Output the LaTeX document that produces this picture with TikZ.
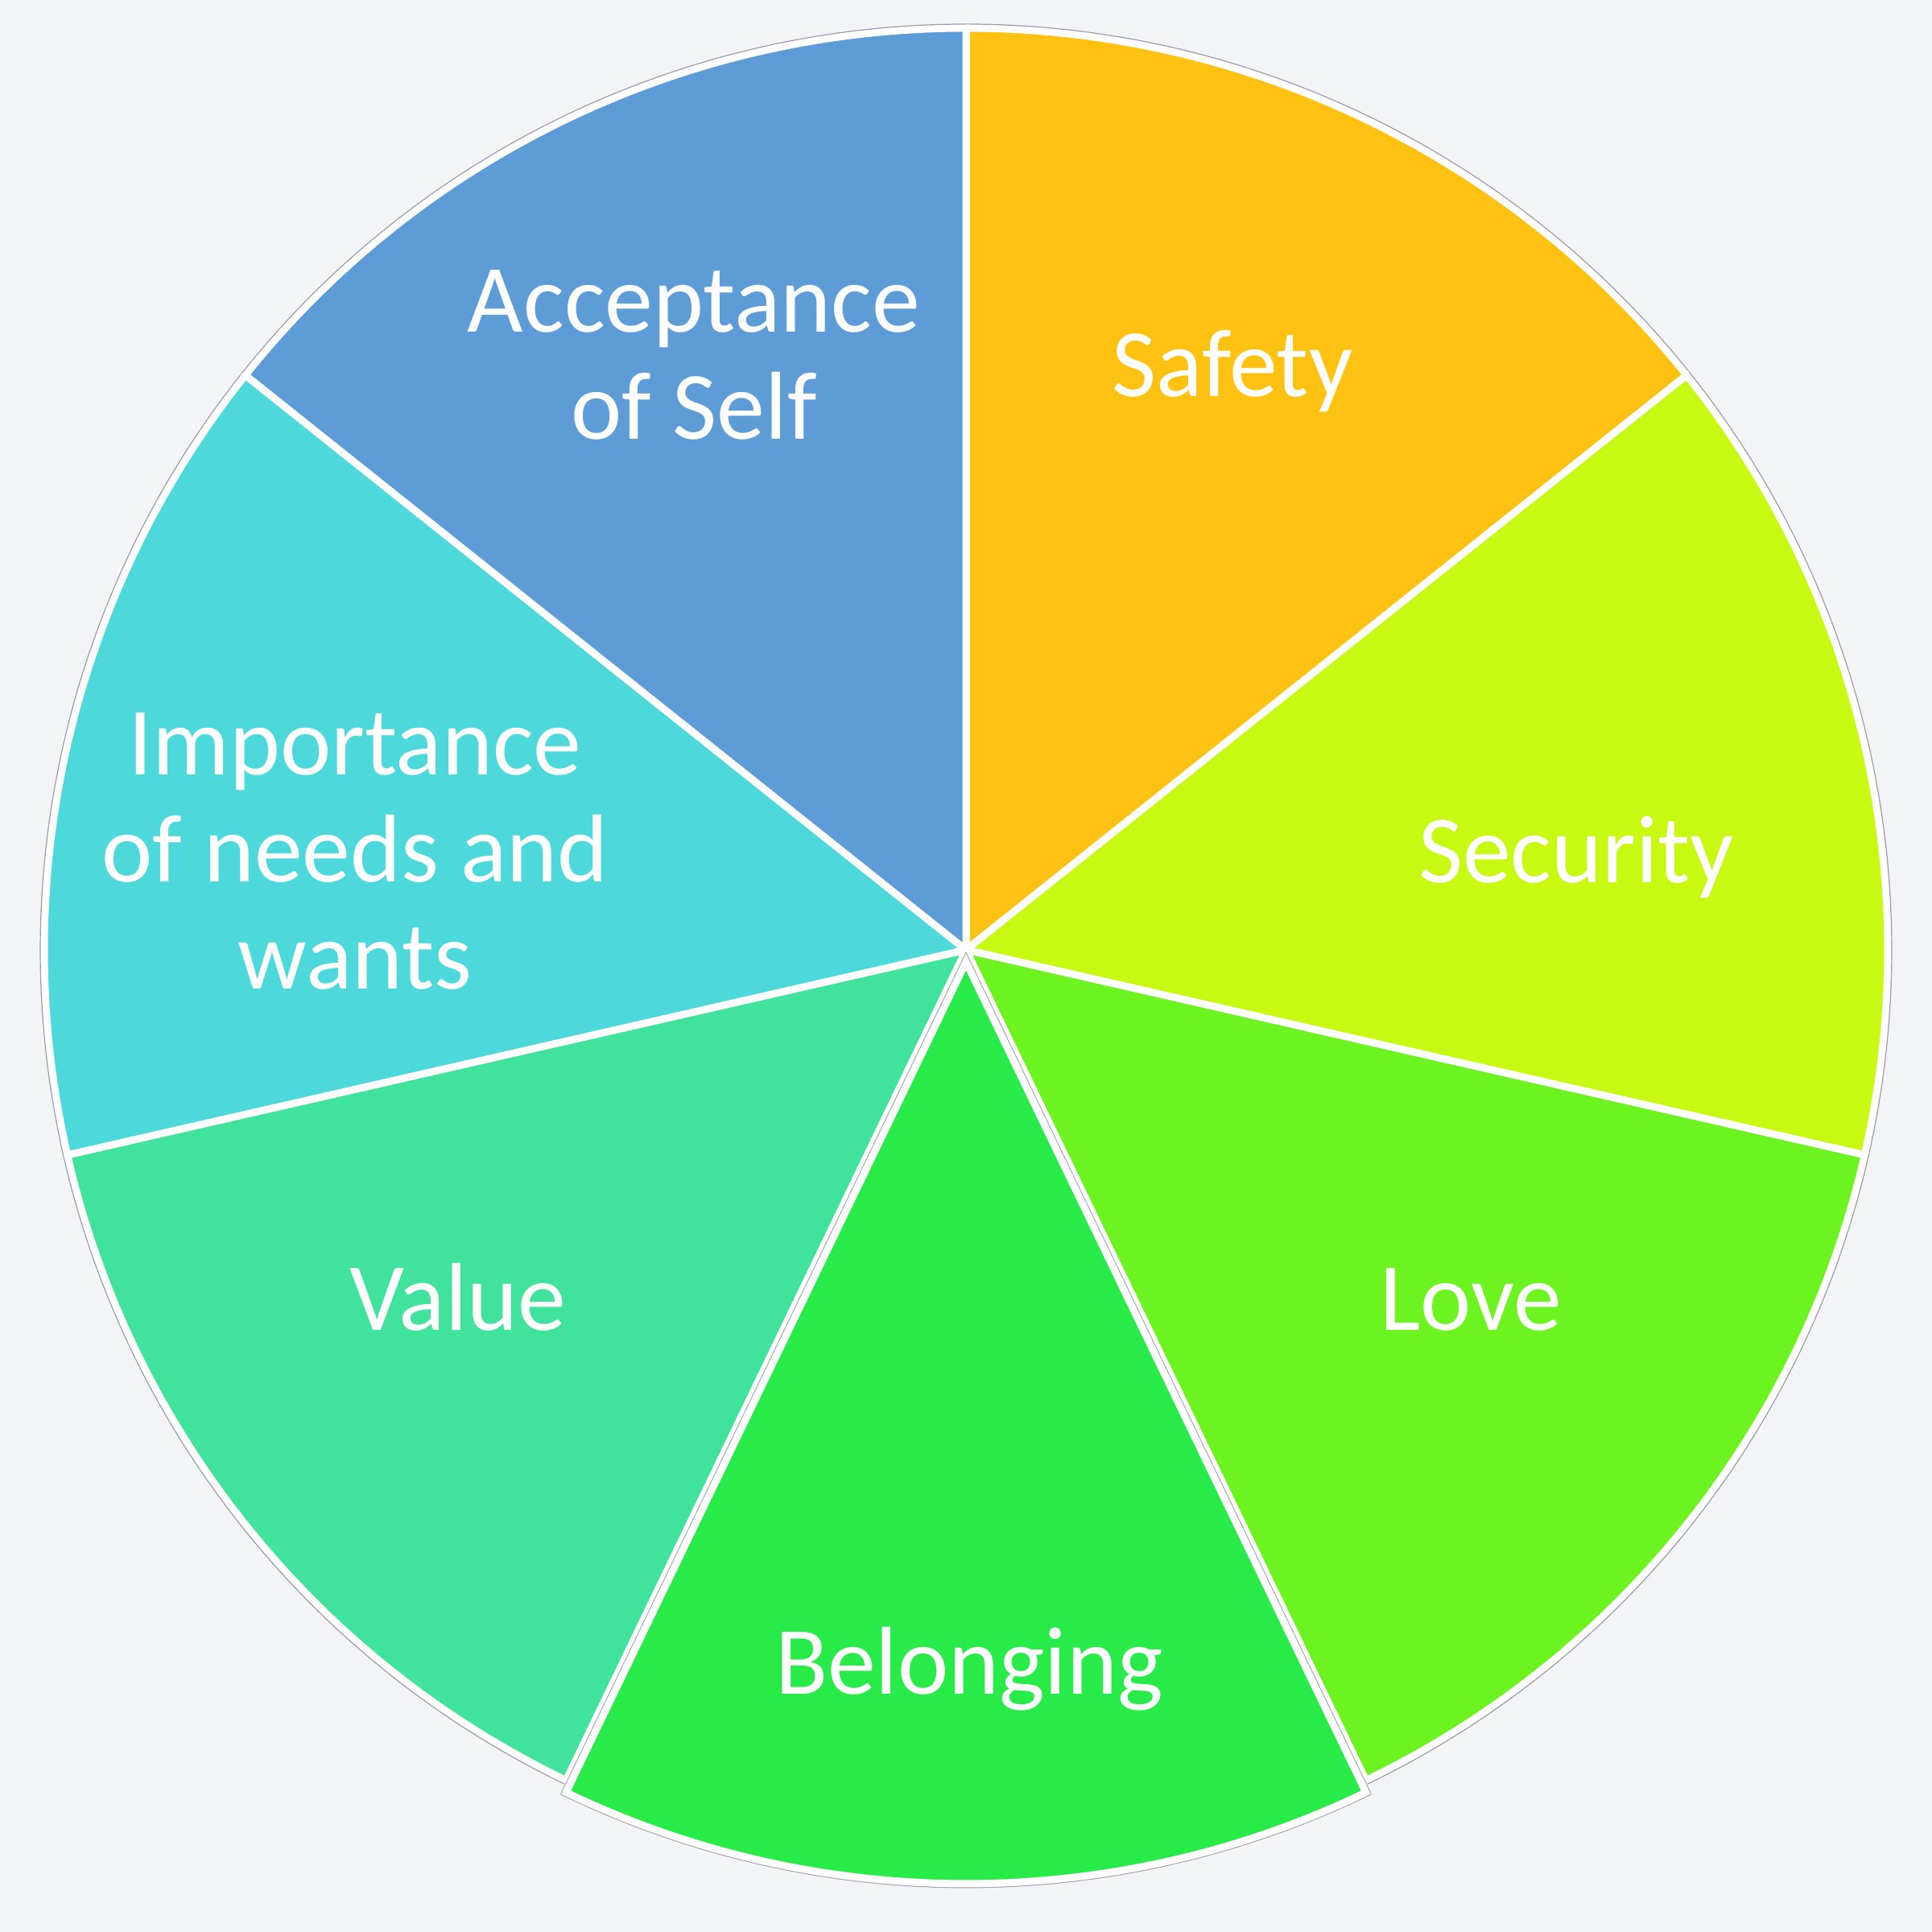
\documentclass[tikz,border=0pt]{standalone}
\usepackage{fontspec}
\setmainfont{Carlito}
\definecolor{bg}{HTML}{F3F4F6}
\definecolor{cAccept}{HTML}{5D9CD6}
\definecolor{cSafety}{HTML}{FFC212}
\definecolor{cSecurity}{HTML}{C8F912}
\definecolor{cLove}{HTML}{6CF320}
\definecolor{cBelong}{HTML}{28EB4A}
\definecolor{cValue}{HTML}{41E29C}
\definecolor{cImport}{HTML}{4DD9DC}
\definecolor{rimgray}{HTML}{9C9CAE}
\begin{document}
\begin{tikzpicture}
\tikzset{
  slice/.style={draw=white, line width=0.09cm, line join=miter},
  rim/.style={draw=rimgray, line width=0.012cm},
  lbl/.style={text=white, font=\fontsize{34.1}{37.9}\selectfont, align=center, anchor=base, inner sep=0pt}
}
\def\R{11.45}
\def\Rr{11.5}
\useasboundingbox[fill=bg] (-12,-12.2) rectangle (12,11.8);
% slices (clockwise from top)
\draw[slice, fill=cSafety] (0,0) -- (90:\R) arc[start angle=90, end angle=38.5714, radius=\R] -- cycle;
\draw[rim] (90:\Rr) arc[start angle=90, end angle=38.5714, radius=\Rr];
\draw[slice, fill=cSecurity] (0,0) -- (38.5714:\R) arc[start angle=38.5714, end angle=-12.8571, radius=\R] -- cycle;
\draw[rim] (38.5714:\Rr) arc[start angle=38.5714, end angle=-12.8571, radius=\Rr];
\draw[slice, fill=cLove] (0,0) -- (-12.8571:\R) arc[start angle=-12.8571, end angle=-64.2857, radius=\R] -- cycle;
\draw[rim] (-12.8571:\Rr) arc[start angle=-12.8571, end angle=-64.2857, radius=\Rr];
\draw[slice, fill=cValue] (0,0) -- (-115.7143:\R) arc[start angle=-115.7143, end angle=-167.1429, radius=\R] -- cycle;
\draw[rim] (-115.7143:\Rr) arc[start angle=-115.7143, end angle=-167.1429, radius=\Rr];
\draw[slice, fill=cImport] (0,0) -- (-167.1429:\R) arc[start angle=-167.1429, end angle=-218.5714, radius=\R] -- cycle;
\draw[rim] (-167.1429:\Rr) arc[start angle=-167.1429, end angle=-218.5714, radius=\Rr];
\draw[slice, fill=cAccept] (0,0) -- (141.4286:\R) arc[start angle=141.4286, end angle=90, radius=\R] -- cycle;
\draw[rim] (141.4286:\Rr) arc[start angle=141.4286, end angle=90, radius=\Rr];
\begin{scope}[shift={(0,-0.15)}]
\draw[rim, line width=0.11cm] (0,0) -- (-64.2857:\R) arc[start angle=-64.2857, end angle=-115.7143, radius=\R] -- cycle;
\draw[slice, fill=cBelong] (0,0) -- (-64.2857:\R) arc[start angle=-64.2857, end angle=-115.7143, radius=\R] -- cycle;
\end{scope}
% labels (anchor = baseline of the last line)
\node[lbl] (accept) at (-3.38,6.34) {Acceptance\\of Self};
\node[lbl] (safety) at (3.31,6.87) {Safety};
\node[lbl] (security) at (7.58,0.83) {Security};
\node[lbl] (love) at (6.27,-4.73) {Love};
\node[lbl] (belong) at (0.04,-9.24) {Belonging};
\node[lbl] (value) at (-6.31,-4.73) {Value};
\node[lbl] (import) at (-7.59,-0.49) {Importance\\of needs and\\wants};
\end{tikzpicture}
\end{document}
